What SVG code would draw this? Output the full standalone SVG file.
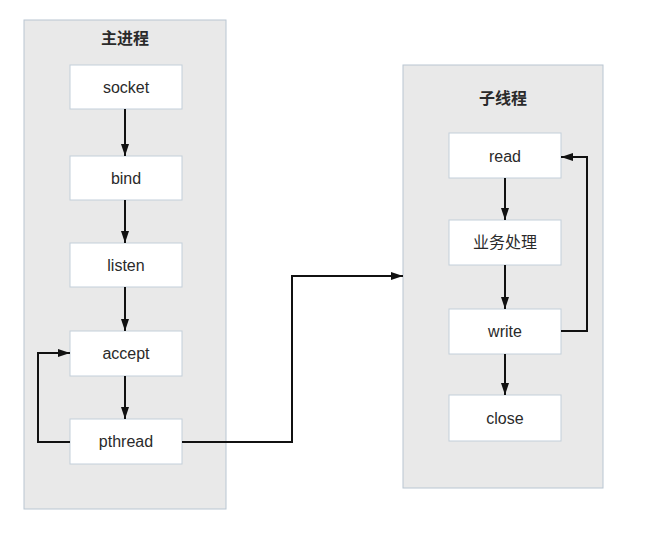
<svg xmlns="http://www.w3.org/2000/svg" width="655" height="537" viewBox="0 0 655 537">
<style>
.cont{fill:#e9e9e9;stroke:#b9c6d2;stroke-width:1}
.box{fill:#ffffff;stroke:#c3cfda;stroke-width:1}
.lbl{font-family:"Liberation Sans","Noto Sans CJK SC",sans-serif;font-size:16px;fill:#2a2a2a;text-anchor:middle;dominant-baseline:central}
.title{font-family:"Noto Sans CJK SC","Liberation Sans",sans-serif;font-size:16px;font-weight:bold;fill:#2a2a2a;text-anchor:middle;dominant-baseline:central}
.edge{fill:none;stroke:#111;stroke-width:2;marker-end:url(#arr)}
</style>
<defs>
<marker id="arr" markerWidth="12" markerHeight="8" refX="12" refY="4" orient="auto" markerUnits="userSpaceOnUse">
<path d="M0,0 L12,4 L0,8 Z" fill="#111"/>
</marker>
</defs>
<rect width="655" height="537" fill="#fff"/>
<g id="main-process">
<rect class="cont" x="24" y="20" width="202" height="489"/>
<text class="title" x="125" y="37">主进程</text>
</g>
<g id="sub-thread">
<rect class="cont" x="403" y="65" width="200" height="423"/>
<text class="title" x="503" y="97">子线程</text>
</g>
<g id="socket"><rect class="box" x="70" y="65" width="112" height="44"/><text class="lbl" x="126" y="87">socket</text></g>
<g id="bind"><rect class="box" x="70" y="156" width="112" height="44"/><text class="lbl" x="126" y="178">bind</text></g>
<g id="listen"><rect class="box" x="70" y="243" width="112" height="44"/><text class="lbl" x="126" y="265">listen</text></g>
<g id="accept"><rect class="box" x="70" y="331" width="112" height="45"/><text class="lbl" x="126" y="353">accept</text></g>
<g id="pthread"><rect class="box" x="70" y="419" width="112" height="45"/><text class="lbl" x="126" y="441">pthread</text></g>
<g id="read"><rect class="box" x="449" y="133" width="112" height="45"/><text class="lbl" x="505" y="156">read</text></g>
<g id="business"><rect class="box" x="449" y="220" width="112" height="45"/><text class="lbl" x="505" y="242">业务处理</text></g>
<g id="write"><rect class="box" x="449" y="309" width="112" height="45"/><text class="lbl" x="505" y="331">write</text></g>
<g id="close"><rect class="box" x="449" y="395" width="112" height="46"/><text class="lbl" x="505" y="418">close</text></g>
<g id="connectors">
<path class="edge" d="M125,109 V156"/>
<path class="edge" d="M125,200 V243"/>
<path class="edge" d="M125,287 V331"/>
<path class="edge" d="M125,376 V419"/>
<path class="edge" d="M70,442 H38 V353 H70"/>
<path class="edge" d="M182,442 H292 V276 H403"/>
<path class="edge" d="M505,178 V220"/>
<path class="edge" d="M505,265 V309"/>
<path class="edge" d="M505,354 V395"/>
<path class="edge" d="M561,331 H587 V157 H561"/>
</g>
</svg>
